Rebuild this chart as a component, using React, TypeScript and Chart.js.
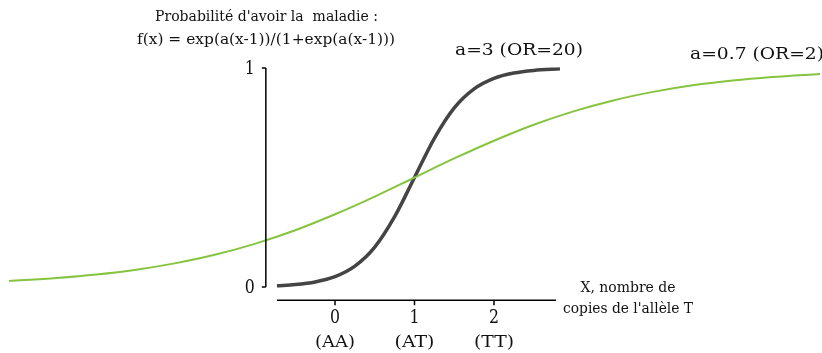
import React, { useEffect, useRef } from "react";
import { Chart, registerables } from "chart.js";

Chart.register(...registerables);

// a = 0.7 (OR = 2) curve
const greenX = [-4.1, -3.5, -3, -2.5, -2, -1.5, -1, -0.5, 0, 0.5, 1, 1.5, 2, 2.5, 3, 3.5, 4, 4.5, 5, 5.5, 6.1];
const greenY = [0.027, 0.041, 0.057, 0.079, 0.109, 0.148, 0.198, 0.259, 0.332, 0.413, 0.5, 0.587, 0.668, 0.741, 0.802, 0.852, 0.891, 0.921, 0.943, 0.959, 0.973];

// a = 3 (OR = 20) curve
const darkX = [-0.73, -0.5, -0.25, 0, 0.25, 0.5, 0.75, 1, 1.25, 1.5, 1.75, 2, 2.25, 2.5, 2.83];
const darkY = [0.0055, 0.011, 0.023, 0.047, 0.095, 0.182, 0.321, 0.5, 0.679, 0.818, 0.905, 0.953, 0.977, 0.989, 0.996];

const xTicks = [0, 1, 2];
const xTickLabels = ["(AA)", "(AT)", "(TT)"];
const yTicks = [0, 1];

const FONT = "'DejaVu Serif', serif";

// draws text stretched horizontally to a target width
function fitText(ctx: any, text: string, x: number, y: number, size: number, width: number, align: "left" | "center" | "right") {
  ctx.font = `${size}px ${FONT}`;
  const w = ctx.measureText(text).width;
  const s = width / w;
  ctx.save();
  ctx.textAlign = align;
  ctx.translate(x, y);
  ctx.scale(s, 1);
  ctx.fillText(text, 0, 0);
  ctx.restore();
}

const axesPlugin = {
  id: "customAxes",
  afterDraw(chart: any) {
    const { ctx } = chart;
    const xs = chart.scales.x;
    const ys = chart.scales.y;
    const px = (v: number) => xs.getPixelForValue(v);
    const py = (v: number) => ys.getPixelForValue(v);
    ctx.save();
    ctx.strokeStyle = "#000";
    ctx.lineWidth = 1.5;
    // y axis
    const yAxisX = px(-0.87);
    ctx.beginPath();
    ctx.moveTo(yAxisX, py(0));
    ctx.lineTo(yAxisX, py(1));
    for (const t of yTicks) {
      ctx.moveTo(yAxisX - 4, py(t));
      ctx.lineTo(yAxisX, py(t));
    }
    ctx.stroke();
    // x axis
    const xAxisY = py(-0.06);
    ctx.beginPath();
    ctx.moveTo(px(-0.73), xAxisY);
    ctx.lineTo(px(2.78), xAxisY);
    for (const t of xTicks) {
      ctx.moveTo(px(t), xAxisY);
      ctx.lineTo(px(t), xAxisY + 5);
    }
    ctx.stroke();

    ctx.fillStyle = "#111";
    ctx.textBaseline = "middle";
    // y tick labels
    for (const t of yTicks) {
      fitText(ctx, String(t), yAxisX - 11, py(t) + 1, 18, 10, "right");
    }
    // x tick labels
    xTicks.forEach((t, i) => {
      fitText(ctx, String(t), px(t), xAxisY + 18, 18, 10, "center");
      fitText(ctx, xTickLabels[i], px(t), xAxisY + 42, 17, 40, "center");
    });
    // x axis title
    fitText(ctx, "X, nombre de", 628, 288, 14, 95, "center");
    fitText(ctx, "copies de l'allèle T", 628, 309, 14, 130, "center");
    // y title
    fitText(ctx, "Probabilité d'avoir la  maladie :", 266.5, 17, 14, 223, "center");
    fitText(ctx, "f(x) = exp(a(x-1))/(1+exp(a(x-1)))", 266, 40, 14.5, 258, "center");
    // curve labels
    fitText(ctx, "a=3 (OR=20)", 455, 51, 17, 128, "left");
    fitText(ctx, "a=0.7 (OR=2)", 690, 55, 17, 134, "left");
    ctx.restore();
  },
};

export default function App() {
  const ref = useRef<HTMLCanvasElement>(null);
  useEffect(() => {
    if (!ref.current) return;
    const chart = new Chart(ref.current, {
      type: "scatter",
      data: {
        datasets: [
          {
            data: greenX.map((x, i) => ({ x, y: greenY[i] })),
            showLine: true,
            borderColor: "#86c440",
            borderWidth: 2,
            pointRadius: 0,
            cubicInterpolationMode: "monotone",
          },
          {
            data: darkX.map((x, i) => ({ x, y: darkY[i] })),
            showLine: true,
            borderColor: "#444444",
            borderWidth: 3.5,
            pointRadius: 0,
            cubicInterpolationMode: "monotone",
          },
        ],
      },
      options: {
        animation: false,
        responsive: false,
        layout: { padding: 0 },
        plugins: { legend: { display: false }, tooltip: { enabled: false } },
        scales: {
          x: { type: "linear", display: false, min: -4.214, max: 6.126 },
          y: { type: "linear", display: false, min: -0.3014, max: 1.3105 },
        },
      },
      plugins: [axesPlugin],
    });
    return () => chart.destroy();
  }, []);
  return (
    <div style={{ position: "absolute", left: 0, top: 0, width: 822, height: 353, background: "#fff" }}>
      <canvas ref={ref} width={822} height={353} />
    </div>
  );
}
